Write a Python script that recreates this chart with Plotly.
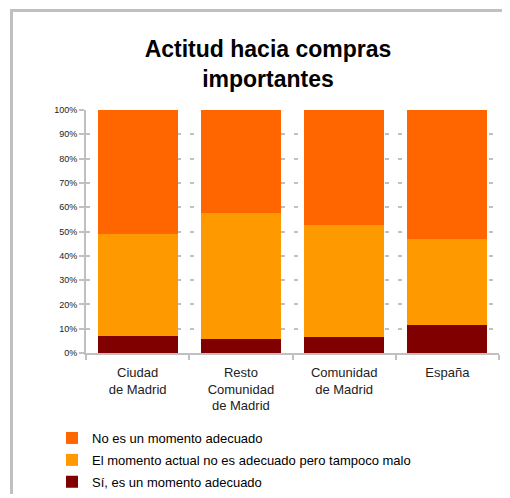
import plotly.graph_objects as go

categories = ["Ciudad<br>de Madrid", "Resto<br>Comunidad<br>de Madrid", "Comunidad<br>de Madrid", "España"]
si_adecuado = [7.2, 5.8, 6.7, 11.7]
ni_bueno_ni_malo = [41.8, 51.8, 46.0, 35.2]
no_adecuado = [51.0, 42.4, 47.3, 53.1]
series_names = ["Sí, es un momento adecuado",
                "El momento actual no es adecuado pero tampoco malo",
                "No es un momento adecuado"]
series_colors = ["#800000", "#FF9900", "#FF6600"]
y_ticks = [0, 10, 20, 30, 40, 50, 60, 70, 80, 90, 100]

W, H = 502, 494
L, T = 86, 110
R = W - 499
B = H - 353
pw, ph = W - L - R, H - T - B

def xp(px):
    return (px - L) / pw

def yp(py):
    return (H - B - py) / ph

fig = go.Figure()
for i, (name, vals, col) in enumerate(zip(series_names, [si_adecuado, ni_bueno_ni_malo, no_adecuado], series_colors)):
    fig.add_trace(go.Bar(x=categories, y=[v / 100 for v in vals], name=name,
                         legendgroup=f"g{i}", legendrank=len(series_names) - i,
                         marker=dict(color=col, line=dict(width=0))))

fig.update_layout(
    width=W - 16, height=H - 16,
    margin=dict(l=L, r=R, t=T, b=B, autoexpand=False),
    barmode="stack", bargap=0.223,
    paper_bgcolor="white", plot_bgcolor="white",
    font=dict(family="Liberation Sans, Arial, sans-serif", color="#000"),
    title=dict(text="<b>Actitud hacia compras<br>importantes</b>",
               x=268 / W, xref="container", xanchor="center",
               y=1 - 57 / H, yref="container", yanchor="middle",
               font=dict(size=23, color="#000")),
    showlegend=True,
    legend=dict(traceorder="grouped", tracegroupgap=2, orientation="v",
                x=xp(52), xanchor="left", y=yp(423), yanchor="top",
                font=dict(size=13, color="#000"), bgcolor="rgba(0,0,0,0)"),
    xaxis=dict(showline=True, linecolor="#c0c0c0", linewidth=2,
               ticks="outside", tickson="boundaries", ticklen=5, tickwidth=2, tickcolor="#c0c0c0",
               ticklabelstandoff=6,
               tickfont=dict(size=13, color="#222"), showgrid=False, fixedrange=True),
    yaxis=dict(range=[0, 1], tickvals=[v / 100 for v in y_ticks],
               ticktext=[f"{v}%" for v in y_ticks],
               showline=True, linecolor="#c0c0c0", linewidth=2,
               ticks="outside", ticklen=5, tickwidth=2, tickcolor="#c0c0c0",
               tickfont=dict(size=9, color="#222"),
               showgrid=True, gridcolor="#c0c0c0", gridwidth=2, griddash="4px,9px",
               zeroline=False, fixedrange=True),
)

# gray frame on the top and left edges
fig.add_shape(type="line", xref="paper", yref="paper",
              x0=xp(11.5), x1=xp(11.5), y0=yp(9), y1=yp(H), line=dict(color="#c0c0c0", width=3))
fig.add_shape(type="line", xref="paper", yref="paper",
              x0=xp(10), x1=xp(W), y0=yp(10.5), y1=yp(10.5), line=dict(color="#c0c0c0", width=3))

post = ("document.body.style.margin='0';"
        "document.body.style.overflow='hidden';"
        "document.documentElement.style.overflow='hidden';"
        "var gd=document.getElementById('{plot_id}');"
        "gd.style.overflow='hidden';"
        f"gd.style.width='{W}px';gd.style.height='{H}px';"
        f"Plotly.relayout(gd,{{width:{W},height:{H}}});")

fig.write_html("out.html", config={"displayModeBar": False}, post_script=post)
